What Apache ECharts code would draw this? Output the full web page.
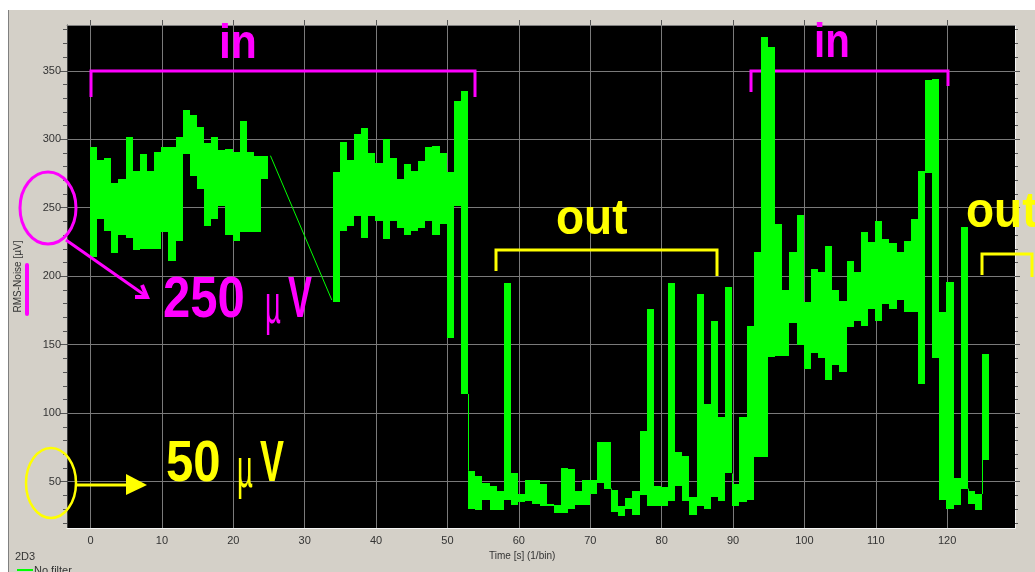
<!DOCTYPE html>
<html><head><meta charset="utf-8">
<script src="https://cdn.jsdelivr.net/npm/echarts@6/dist/echarts.min.js"></script>
<style>html,body{margin:0;padding:0;background:#d4d0c8;overflow:hidden}#c{width:1035px;height:572px}</style>
</head><body><div id="c"></div>
<script>
// ---- data ----
const binTimes = [0,1,2,3,4,5,6,7,8,9,10,11,12,13,14,15,16,17,18,19,20,21,22,23,24,
  34,35,36,37,38,39,40,41,42,43,44,45,46,47,48,49,50,51,52,
  53,54,55,56,57,58,59,60,61,62,63,64,65,66,67,68,69,70,71,72,73,74,75,76,77,78,79,80,81,82,83,84,85,86,87,88,89,
  90,91,92,93,94,95,96,97,98,99,100,101,102,103,104,105,106,107,108,109,110,111,112,113,114,115,116,117,118,119,120,121,122,123,124,125];
const highValues = [294,285,286,268,271,302,277,289,277,291,294,294,302,321,318,309,297,302,292,293,291,313,291,288,288,
  276,298,285,304,308,290,283,300,286,271,282,277,284,294,295,290,276,328,335,
  58,54,49,47,43,195,56,41,51,51,48,34,33,60,59,43,51,51,79,79,44,32,38,43,87,176,47,46,195,72,69,39,187,107,167,97,192,
  48,97,164,218,375,367,238,190,218,245,181,205,203,222,190,182,211,203,232,225,240,227,224,218,226,242,277,343,344,174,196,53,236,43,41,143];
const lowValues = [214,242,233,217,230,228,219,220,220,220,232,211,226,289,273,264,237,242,251,230,226,232,232,232,271,
  181,233,237,244,228,244,240,227,240,235,230,233,235,240,230,238,155,251,114,
  30,29,37,29,29,37,33,35,36,34,32,32,27,27,30,33,33,41,49,45,28,25,30,26,40,32,32,32,36,47,36,26,32,30,39,36,56,
  32,35,37,68,68,141,142,142,166,150,132,144,140,124,135,130,163,167,164,176,167,180,176,183,174,174,121,275,140,37,30,33,45,34,29,66];
// thin joining line across the gap without data
const gapTimes = [25.2, 33.8];
const gapValues = [288, 182.6];
// axis ticks
const xTicks = [0,10,20,30,40,50,60,70,80,90,100,110,120];
const yTicks = [50,100,150,200,250,300,350];
const yMinorTicks = [20,30,40,60,70,80,90,110,120,130,140,160,170,180,190,210,220,230,240,260,270,280,290,310,320,330,340,360,370,380];

const X_MIN = -3.3, X_MAX = 129.5, Y_MIN = 16.2, Y_MAX = 383.4;
const BIN_START = -0.1, BIN_WIDTH = 1;
const GREEN = '#00ff00', MAG = '#ff00ff', YEL = '#ffff00';
const AXF = "'Liberation Sans', Arial, sans-serif";
const ANF = "'Liberation Sans', Arial, sans-serif";

function renderBin(params, api) {
  const i = params.dataIndex;
  const t = api.value(0), lo = api.value(1), hi = api.value(2);
  const a = api.coord([t + BIN_START, hi]);
  const b = api.coord([t + BIN_START + BIN_WIDTH, lo]);
  const x0 = Math.round(a[0]), x1 = Math.round(b[0]);
  const y0 = Math.round(a[1]), y1 = Math.round(b[1]);
  const children = [{type: 'rect', shape: {x: x0, y: y0, width: x1 - x0, height: Math.max(1, y1 - y0)}, style: {fill: GREEN}}];
  if (i + 1 < binTimes.length && binTimes[i + 1] === t + 1) {
    const nlo = lowValues[i + 1], nhi = highValues[i + 1];
    let from = null, to = null;
    if (lo > nhi) { from = lo; to = nhi; } else if (hi < nlo) { from = hi; to = nlo; }
    if (from !== null) {
      const p = api.coord([t + BIN_START + BIN_WIDTH, from]);
      const q = api.coord([t + BIN_START + BIN_WIDTH, to]);
      children.push({type: 'line', shape: {x1: x1 + 0.5, y1: p[1], x2: x1 + 0.5, y2: q[1]}, style: {stroke: GREEN, lineWidth: 1}});
    }
  }
  return {type: 'group', children};
}

// narrow annotation text: one glyph run, squeezed horizontally
function label(text, x, y, size, color, sx, weight, z) {
  return {type: 'text', z: z || 50, x: x, y: y, scaleX: sx, originX: 0, originY: 0,
    style: {text: text, fill: color, font: (weight || 'bold') + ' ' + size + 'px ' + ANF, align: 'left', verticalAlign: 'middle'}};
}

const chart = echarts.init(document.getElementById('c'), null, {renderer: 'canvas'});
const axisLabelStyle = {color: '#333', fontSize: 11, fontFamily: AXF};
const noLine = {show: false, onZero: false};
chart.setOption({
  backgroundColor: '#d4d0c8',
  animation: false,
  grid: {left: 67, right: 20, top: 25, height: 503, show: true, backgroundColor: '#000000', borderWidth: 0},
  xAxis: [
    {type: 'value', position: 'bottom', min: X_MIN, max: X_MAX,
      axisLine: {show: true, onZero: false, lineStyle: {color: '#f4f4f4', width: 1}},
      axisTick: {show: false, customValues: xTicks},
      axisLabel: Object.assign({customValues: xTicks, margin: 7}, axisLabelStyle),
      splitLine: {show: true, lineStyle: {color: '#7a7a7a', width: 1}}},
    {type: 'value', position: 'top', min: X_MIN, max: X_MAX,
      axisLine: {show: true, onZero: false, lineStyle: {color: '#808080', width: 1}},
      axisTick: {show: true, customValues: xTicks, length: 5, lineStyle: {color: '#555'}},
      axisLabel: {show: false}, splitLine: {show: false}}
  ],
  yAxis: [
    {type: 'value', position: 'left', min: Y_MIN, max: Y_MAX,
      axisLine: {show: true, onZero: false, lineStyle: {color: '#404040', width: 1}},
      axisTick: {show: true, customValues: yTicks, length: 7, lineStyle: {color: '#555'}},
      axisLabel: Object.assign({customValues: yTicks, margin: 6}, axisLabelStyle),
      splitLine: {show: true, lineStyle: {color: '#7a7a7a', width: 1}},
      name: 'RMS-Noise [µV]', nameLocation: 'middle', nameGap: 44,
      nameTextStyle: {color: '#333', fontSize: 10, fontFamily: AXF}},
    {type: 'value', position: 'left', min: Y_MIN, max: Y_MAX,
      axisLine: noLine, axisTick: {show: true, customValues: yMinorTicks, length: 4, lineStyle: {color: '#555'}},
      axisLabel: {show: false}, splitLine: {show: false}},
    {type: 'value', position: 'right', min: Y_MIN, max: Y_MAX,
      axisLine: {show: true, onZero: false, lineStyle: {color: '#f4f4f4', width: 1}},
      axisTick: {show: true, customValues: yTicks, length: 5, lineStyle: {color: '#555'}},
      axisLabel: {show: false}, splitLine: {show: false}},
    {type: 'value', position: 'right', min: Y_MIN, max: Y_MAX,
      axisLine: noLine, axisTick: {show: true, customValues: yMinorTicks, length: 3, lineStyle: {color: '#555'}},
      axisLabel: {show: false}, splitLine: {show: false}}
  ],
  series: [
    {type: 'custom', name: 'No filter', xAxisIndex: 0, yAxisIndex: 0, renderItem: renderBin,
      encode: {x: 0, y: [1, 2]},
      data: binTimes.map((t, i) => [t, lowValues[i], highValues[i]]), z: 3},
    {type: 'line', xAxisIndex: 0, yAxisIndex: 0, showSymbol: false, symbol: 'none',
      lineStyle: {color: GREEN, width: 1}, data: gapTimes.map((t, i) => [t, gapValues[i]]), z: 3}
  ],
  graphic: [
    {type: 'rect', z: 50, shape: {x: 0, y: 0, width: 1035, height: 10}, style: {fill: '#ffffff'}},
    {type: 'rect', z: 50, shape: {x: 0, y: 0, width: 8, height: 572}, style: {fill: '#ffffff'}},
    {type: 'line', z: 50, shape: {x1: 8.5, y1: 10, x2: 8.5, y2: 572}, style: {stroke: '#808080', lineWidth: 1}},
    {type: 'text', z: 50, x: 489, y: 551, style: {text: 'Time [s] (1/bin)', fill: '#333', font: "10px 'Liberation Sans', Arial, sans-serif"}},
    {type: 'text', z: 50, x: 15, y: 551, style: {text: '2D3', fill: '#333', font: "11px 'Liberation Sans', Arial, sans-serif"}},
    {type: 'line', z: 50, shape: {x1: 17, y1: 570, x2: 33, y2: 570}, style: {stroke: GREEN, lineWidth: 2}},
    {type: 'text', z: 50, x: 34, y: 565, style: {text: 'No filter', fill: '#333', font: "11px 'Liberation Sans', Arial, sans-serif"}},
    // magenta annotations
    {type: 'polyline', z: 50, shape: {points: [[91, 97], [91, 71], [475, 71], [475, 97]]}, style: {stroke: MAG, lineWidth: 3, fill: null}},
    {type: 'polyline', z: 1, shape: {points: [[751, 92], [751, 71], [948, 71], [948, 86]]}, style: {stroke: MAG, lineWidth: 3, fill: null}},
    label('in', 219, 45.2, 48, MAG, 0.89),
    label('in', 814, 44.2, 48, MAG, 0.84),
    {type: 'ellipse', z: 50, shape: {cx: 48, cy: 208, rx: 28, ry: 36}, style: {stroke: MAG, lineWidth: 3, fill: null}},
    {type: 'polyline', z: 50, shape: {points: [[66, 240], [146, 296]]}, style: {stroke: MAG, lineWidth: 3, fill: null}},
    {type: 'polyline', z: 50, shape: {points: [[135, 297], [147, 297], [142, 285]]}, style: {stroke: MAG, lineWidth: 4, fill: null}},
    {type: 'rect', z: 50, shape: {x: 25, y: 263, width: 4, height: 53, r: 2}, style: {fill: MAG}},
    label('250', 163, 301, 57, MAG, 0.86),
    label('µ', 265, 307.7, 55, MAG, 0.5, 'normal'),
    label('V', 288, 301, 57, MAG, 0.63),
    // yellow annotations
    {type: 'polyline', z: 50, shape: {points: [[496, 271], [496, 250], [717, 250], [717, 276]]}, style: {stroke: YEL, lineWidth: 3, fill: null}},
    {type: 'polyline', z: 50, shape: {points: [[982, 275], [982, 254], [1032, 254], [1032, 277]]}, style: {stroke: YEL, lineWidth: 3, fill: null}},
    label('out', 556, 220.5, 50, YEL, 0.92),
    label('out', 966, 212.8, 50, YEL, 0.92),
    {type: 'ellipse', z: 50, shape: {cx: 51, cy: 483, rx: 25, ry: 35}, style: {stroke: YEL, lineWidth: 2.5, fill: null}},
    {type: 'line', z: 50, shape: {x1: 76, y1: 485, x2: 130, y2: 485}, style: {stroke: YEL, lineWidth: 3}},
    {type: 'polygon', z: 50, shape: {points: [[126, 474], [147, 485], [126, 495]]}, style: {fill: YEL}},
    label('50', 166, 465, 57, YEL, 0.86),
    label('µ', 237, 471.7, 55, YEL, 0.5, 'normal'),
    label('V', 260, 465, 57, YEL, 0.63)
  ]
});
</script></body></html>
